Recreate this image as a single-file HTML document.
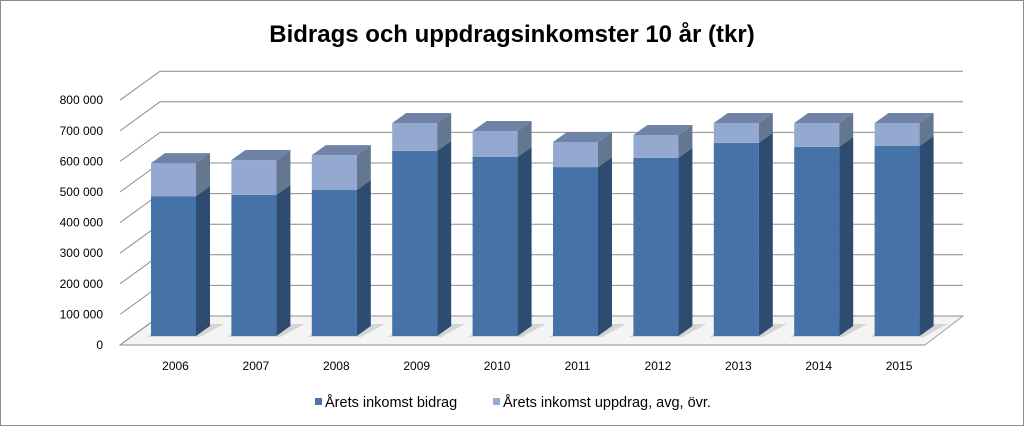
<!DOCTYPE html>
<html><head><meta charset="utf-8"><style>
body{margin:0;background:#fff}
svg{display:block;font-family:"Liberation Sans",sans-serif}
</style></head><body>
<svg id="c" width="1024" height="426">
<rect x="0.5" y="0.5" width="1023" height="425" fill="#fff" stroke="#8c8c8c"/>
<text x="512" y="42" text-anchor="middle" font-size="24" font-weight="bold" fill="#000">Bidrags och uppdragsinkomster 10 år (tkr)</text>
<g id="grid"></g><g id="bars"></g><g id="xl"></g>
<g>
<rect x="315" y="398" width="7" height="7" fill="#4a75ab"/>
<text x="325" y="407" font-size="14.5">Årets inkomst bidrag</text>
<rect x="493" y="398" width="7" height="7" fill="#95acd3"/>
<text x="503" y="407" font-size="14.5">Årets inkomst uppdrag, avg, övr.</text>
</g>
</svg>
<script>
const categories=["2006","2007","2008","2009","2010","2011","2012","2013","2014","2015"];
const bidrag=[457000,461000,477000,605000,585000,552000,582000,631000,618000,621000];
const uppdrag=[108000,114000,114000,91000,85000,82000,75000,65000,78000,75000];
const ticks=[0,100000,200000,300000,400000,500000,600000,700000,800000];
const tickLabels=["0","100 000","200 000","300 000","400 000","500 000","600 000","700 000","800 000"];
const NS="http://www.w3.org/2000/svg";
function mk(t,a,p){const e=document.createElementNS(NS,t);for(const k in a)e.setAttribute(k,a[k]);p.appendChild(e);return e;}
const PX=30.6/100000;
const yFront=v=>345-v*PX, yBack=v=>316-v*PX, yBar=v=>336-v*PX;
const xBar=i=>151+i*80.4;
const g=document.getElementById('grid');
let fl=mk('polygon',{points:"120,345 925,345 963,316 160,316",fill:"#f4f4f4",stroke:"#a0a0a0"},g);

ticks.forEach((t,i)=>{
  let l=mk('line',{x1:160,y1:yBack(t),x2:963,y2:yBack(t),stroke:"#8c8c8c","stroke-width":1},g);
  
  let d=mk('line',{x1:120,y1:yFront(t),x2:160,y2:yBack(t),stroke:"#8c8c8c","stroke-width":1},g);
  
  let tx=mk('text',{x:103,y:yFront(t)+4,"text-anchor":"end","font-size":12},g);
  tx.textContent=tickLabels[i];
  
});
let fe=mk('line',{x1:120,y1:345,x2:925,y2:345,stroke:"#8c8c8c"},g);

const b=document.getElementById('bars'),xl=document.getElementById('xl');
const W=45,DX=14,DY=10;
categories.forEach((c,i)=>{
  const x=xBar(i);
  const sh=mk('polygon',{points:`${x-4},337 ${x+W+4},337 ${x+W+DX+14},${336-DY-2} ${x+DX},${336-DY-2}`,fill:"#c8c8c8",opacity:0.7},b);
  
  const y0=yBar(0),y1=yBar(bidrag[i]),y2=yBar(bidrag[i]+uppdrag[i]);
  const grp=mk('g',{},b);
  
  let r1=mk('rect',{x:x,y:y1,width:W,height:y0-y1,fill:"#4572a7"},grp);
  
  let s1=mk('polygon',{points:`${x+W},${y0} ${x+W+DX},${y0-DY} ${x+W+DX},${y1-DY} ${x+W},${y1}`,fill:"#2e4b72"},grp);
  
  let r2=mk('rect',{x:x,y:y2,width:W,height:y1-y2,fill:"#93a9cf"},grp);
  
  let s2=mk('polygon',{points:`${x+W},${y1} ${x+W+DX},${y1-DY} ${x+W+DX},${y2-DY} ${x+W},${y2}`,fill:"#65778f"},grp);
  
  let tp=mk('polygon',{points:`${x},${y2} ${x+W},${y2} ${x+W+DX},${y2-DY} ${x+DX},${y2-DY}`,fill:"#6f83a6"},grp);
  
  let t=mk('text',{x:x+W/2+2,y:370,"text-anchor":"middle","font-size":12},xl);
  t.textContent=c;
  
});
</script>
</body></html>
